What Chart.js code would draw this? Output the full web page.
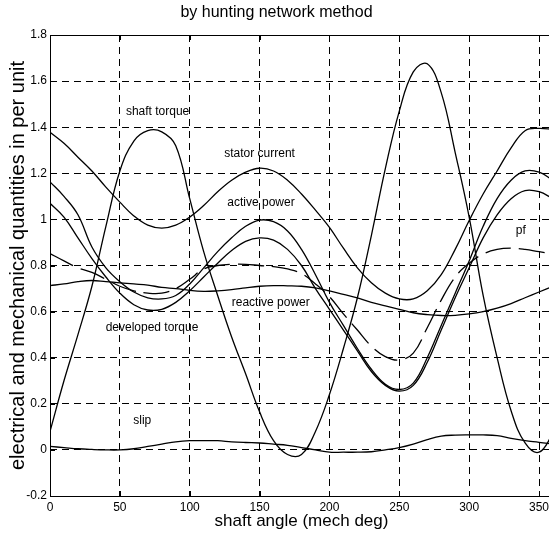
<!DOCTYPE html>
<html>
<head>
<meta charset="utf-8">
<script src="https://cdn.jsdelivr.net/npm/chart.js@4.4.1/dist/chart.umd.min.js"></script>
<style>
  html, body { margin: 0; padding: 0; background: #fff; overflow: hidden; }
  canvas { display: block; }
</style>
</head>
<body>
<canvas id="grafica" width="600" height="544"></canvas>
<script>
// angulo del eje (grados mecanicos), cada 10 grados
const angulos = [0,10,20,30,40,50,60,70,80,90,100,110,120,130,140,150,160,170,180,
  190,200,210,220,230,240,250,260,270,280,290,300,310,320,330,340,350,360];

const parEje = [0.08,0.30,0.50,0.71,0.97,1.21,1.34,1.385,1.38,1.32,1.09,0.86,0.67,0.49,0.33,0.165,0.04,-0.02,-0.02,
  0.08,0.24,0.44,0.66,0.93,1.22,1.47,1.64,1.675,1.55,1.29,1.01,0.67,0.40,0.17,0.03,-0.01,0.07];

const corrienteEstator = [1.378,1.33,1.27,1.21,1.14,1.075,1.015,0.975,0.962,0.975,1.01,1.06,1.12,1.17,1.205,1.222,1.21,1.17,1.11,
  1.04,0.965,0.875,0.79,0.725,0.68,0.655,0.655,0.69,0.76,0.87,0.995,1.11,1.21,1.31,1.385,1.395,1.39];

const potenciaActiva = [1.163,1.10,1.02,0.88,0.79,0.73,0.685,0.66,0.655,0.67,0.72,0.79,0.86,0.92,0.97,0.997,0.99,0.95,0.87,
  0.76,0.64,0.54,0.44,0.35,0.285,0.262,0.29,0.40,0.54,0.68,0.82,0.97,1.09,1.17,1.21,1.205,1.17];

const parDesarrollado = [1.07,1.01,0.92,0.83,0.75,0.68,0.63,0.607,0.61,0.64,0.69,0.75,0.81,0.865,0.905,0.92,0.91,0.87,0.80,
  0.70,0.61,0.52,0.43,0.34,0.28,0.255,0.28,0.38,0.52,0.66,0.79,0.92,1.02,1.09,1.125,1.12,1.09];

const factorPotencia = [0.852,0.82,0.79,0.77,0.74,0.71,0.69,0.68,0.68,0.70,0.74,0.785,0.80,0.805,0.805,0.80,0.795,0.785,0.765,
  0.72,0.665,0.59,0.52,0.45,0.405,0.39,0.42,0.53,0.65,0.75,0.81,0.85,0.87,0.875,0.87,0.86,0.85];

const potenciaReactiva = [0.713,0.72,0.73,0.735,0.73,0.725,0.72,0.715,0.705,0.70,0.692,0.688,0.69,0.695,0.703,0.71,0.713,0.712,0.71,
  0.703,0.69,0.675,0.66,0.64,0.625,0.61,0.595,0.587,0.583,0.584,0.59,0.60,0.615,0.635,0.66,0.685,0.71];

const deslizamiento = [0.015,0.01,0.005,0.002,0.0,0.0,0.005,0.015,0.025,0.035,0.04,0.04,0.04,0.035,0.032,0.03,0.025,0.02,0.01,
  0.0,-0.01,-0.01,-0.01,-0.008,0.0,0.01,0.025,0.045,0.06,0.064,0.065,0.065,0.062,0.05,0.04,0.033,0.025];

// marcas de los ejes
const ticksX = [0,50,100,150,200,250,300,350];

// rotulos dentro de la grafica (en unidades de datos)
const rotulos = ['shaft torque','stator current','active power','pf','reactive power','developed torque','slip'];
const rotulosX = [77, 150, 151, 337, 158, 73, 66];
const rotulosY = [1.466, 1.286, 1.074, 0.95, 0.638, 0.53, 0.125];

const FUENTE = 'Arial, "Liberation Sans", sans-serif';

function serie(valores, trazo) {
  return {
    data: angulos.map((a, i) => ({ x: a, y: valores[i] })),
    borderColor: '#000',
    borderWidth: 1.3,
    borderDash: trazo || [],
    pointRadius: 0,
    tension: 0.4,
    fill: false
  };
}

// marco y marcas hacia dentro, como en matlab
const marcoPlugin = {
  id: 'marco',
  afterDatasetsDraw(chart) {
    const { ctx, chartArea: a, scales } = chart;
    ctx.save();
    ctx.strokeStyle = '#000';
    ctx.lineWidth = 1;
    ctx.setLineDash([]);
    ctx.beginPath();
    ticksX.forEach(v => {
      const px = Math.round(scales.x.getPixelForValue(v)) + 0.5;
      ctx.moveTo(px, a.bottom); ctx.lineTo(px, a.bottom - 5);
      ctx.moveTo(px, a.top); ctx.lineTo(px, a.top + 5);
    });
    scales.y.ticks.forEach(t => {
      const py = Math.round(scales.y.getPixelForValue(t.value)) + 0.5;
      ctx.moveTo(a.left, py); ctx.lineTo(a.left + 5, py);
    });
    ctx.stroke();
    ctx.strokeRect(Math.round(a.left) + 0.5, Math.round(a.top) + 0.5,
      Math.round(a.right - a.left), Math.round(a.bottom - a.top));

    ctx.fillStyle = '#000';
    ctx.font = '12px ' + FUENTE;
    ctx.textAlign = 'center';
    ctx.textBaseline = 'middle';
    rotulos.forEach((txt, i) => {
      ctx.fillText(txt, scales.x.getPixelForValue(rotulosX[i]), scales.y.getPixelForValue(rotulosY[i]));
    });
    ctx.restore();
  }
};

new Chart(document.getElementById('grafica').getContext('2d'), {
  type: 'line',
  data: {
    datasets: [
      serie(parEje),
      serie(corrienteEstator),
      serie(potenciaActiva),
      serie(parDesarrollado),
      serie(factorPotencia, [26, 8]),
      serie(potenciaReactiva),
      serie(deslizamiento)
    ]
  },
  options: {
    responsive: false,
    animation: false,
    devicePixelRatio: 1,
    layout: { padding: { left: 0, right: 47, top: 0, bottom: 0 } },
    plugins: {
      legend: { display: false },
      tooltip: { enabled: false },
      title: {
        display: true,
        text: 'by hunting network method',
        color: '#000',
        font: { family: FUENTE, size: 16, weight: 'normal' },
        padding: { top: 3, bottom: 12.8 }
      }
    },
    scales: {
      x: {
        type: 'linear',
        min: 0,
        max: 360,
        afterBuildTicks: s => { s.ticks = ticksX.map(v => ({ value: v })); },
        afterFit: s => { s.height = 48; },
        ticks: { color: '#000', font: { family: FUENTE, size: 12 }, padding: 4, maxRotation: 0 },
        grid: { color: '#000', lineWidth: 1, drawTicks: false },
        border: { display: false, dash: [7, 5] },
        title: {
          display: true,
          text: 'shaft angle (mech deg)',
          color: '#000',
          font: { family: FUENTE, size: 17 },
          padding: { top: 0, bottom: 12 }
        }
      },
      y: {
        min: -0.2,
        max: 1.8,
        afterFit: s => { s.width = 50; },
        ticks: {
          stepSize: 0.2,
          color: '#000',
          font: { family: FUENTE, size: 12 },
          padding: 3,
          callback: v => String(Math.round(v * 10) / 10)
        },
        grid: { color: '#000', lineWidth: 1, drawTicks: false },
        border: { display: false, dash: [7, 5] },
        title: {
          display: true,
          text: 'electrical and mechanical quantities in per unit',
          color: '#000',
          font: { family: FUENTE, size: 20 },
          padding: { top: 6, bottom: 0 }
        }
      }
    }
  },
  plugins: [marcoPlugin]
});
</script>
</body>
</html>
